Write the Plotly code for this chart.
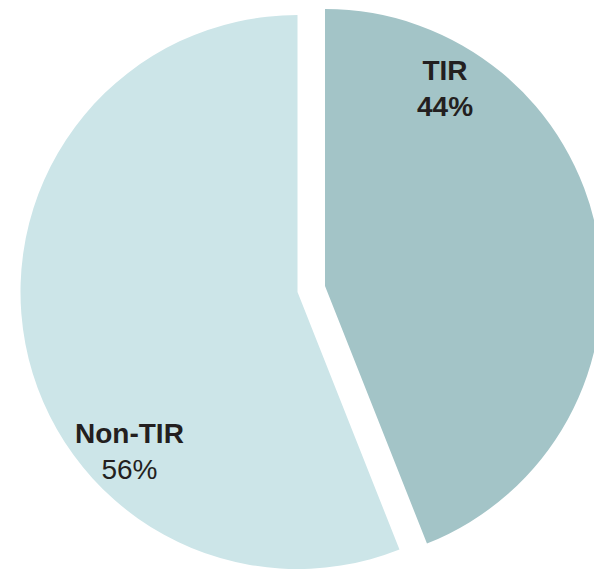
import plotly.graph_objects as go

labels = ["TIR", "Non-TIR"]
values = [44, 56]
colors = ["#a3c4c7", "#cce5e8"]

W, H = 604, 569

def px_domain(cx, cy, r):
    return dict(x=[(cx - r) / W, (cx + r) / W],
                y=[1 - (cy + r) / H, 1 - (cy - r) / H])

fig = go.Figure()
# Non-TIR slice (TIR part transparent)
fig.add_trace(go.Pie(
    labels=labels, values=values, sort=False, direction="clockwise", rotation=0,
    marker=dict(colors=["rgba(0,0,0,0)", colors[1]], line=dict(width=0)),
    textinfo="none", hoverinfo="label+percent", showlegend=False,
    domain=px_domain(297.5, 292, 277),
))
# TIR slice, offset (pulled out)
fig.add_trace(go.Pie(
    labels=labels, values=values, sort=False, direction="clockwise", rotation=0,
    marker=dict(colors=[colors[0], "rgba(0,0,0,0)"], line=dict(width=0)),
    textinfo="none", hoverinfo="label+percent", showlegend=False,
    domain=px_domain(325, 286, 277),
))

font_fam = "Arial, Liberation Sans, sans-serif"
txt_col = "#231f20"
fig.add_annotation(x=444.5 / W, y=1 - 89 / H, xref="paper", yref="paper",
                   xanchor="center", yanchor="middle",
                   text=f"<b>{labels[0]}</b><br><b>{values[0]}%</b>", showarrow=False,
                   font=dict(family=font_fam, size=28, color=txt_col))
fig.add_annotation(x=129 / W, y=1 - 451 / H, xref="paper", yref="paper",
                   xanchor="center", yanchor="middle",
                   text=f"<b>{labels[1]}</b><br>{values[1]}%", showarrow=False,
                   font=dict(family=font_fam, size=28, color=txt_col))

fig.update_layout(width=W, height=H, margin=dict(l=0, r=0, t=0, b=0),
                  paper_bgcolor="white", plot_bgcolor="white", showlegend=False)

fig.write_html("out.html", config={"displayModeBar": False},
               post_script="document.body.style.margin='0';document.body.style.overflow='hidden';")
